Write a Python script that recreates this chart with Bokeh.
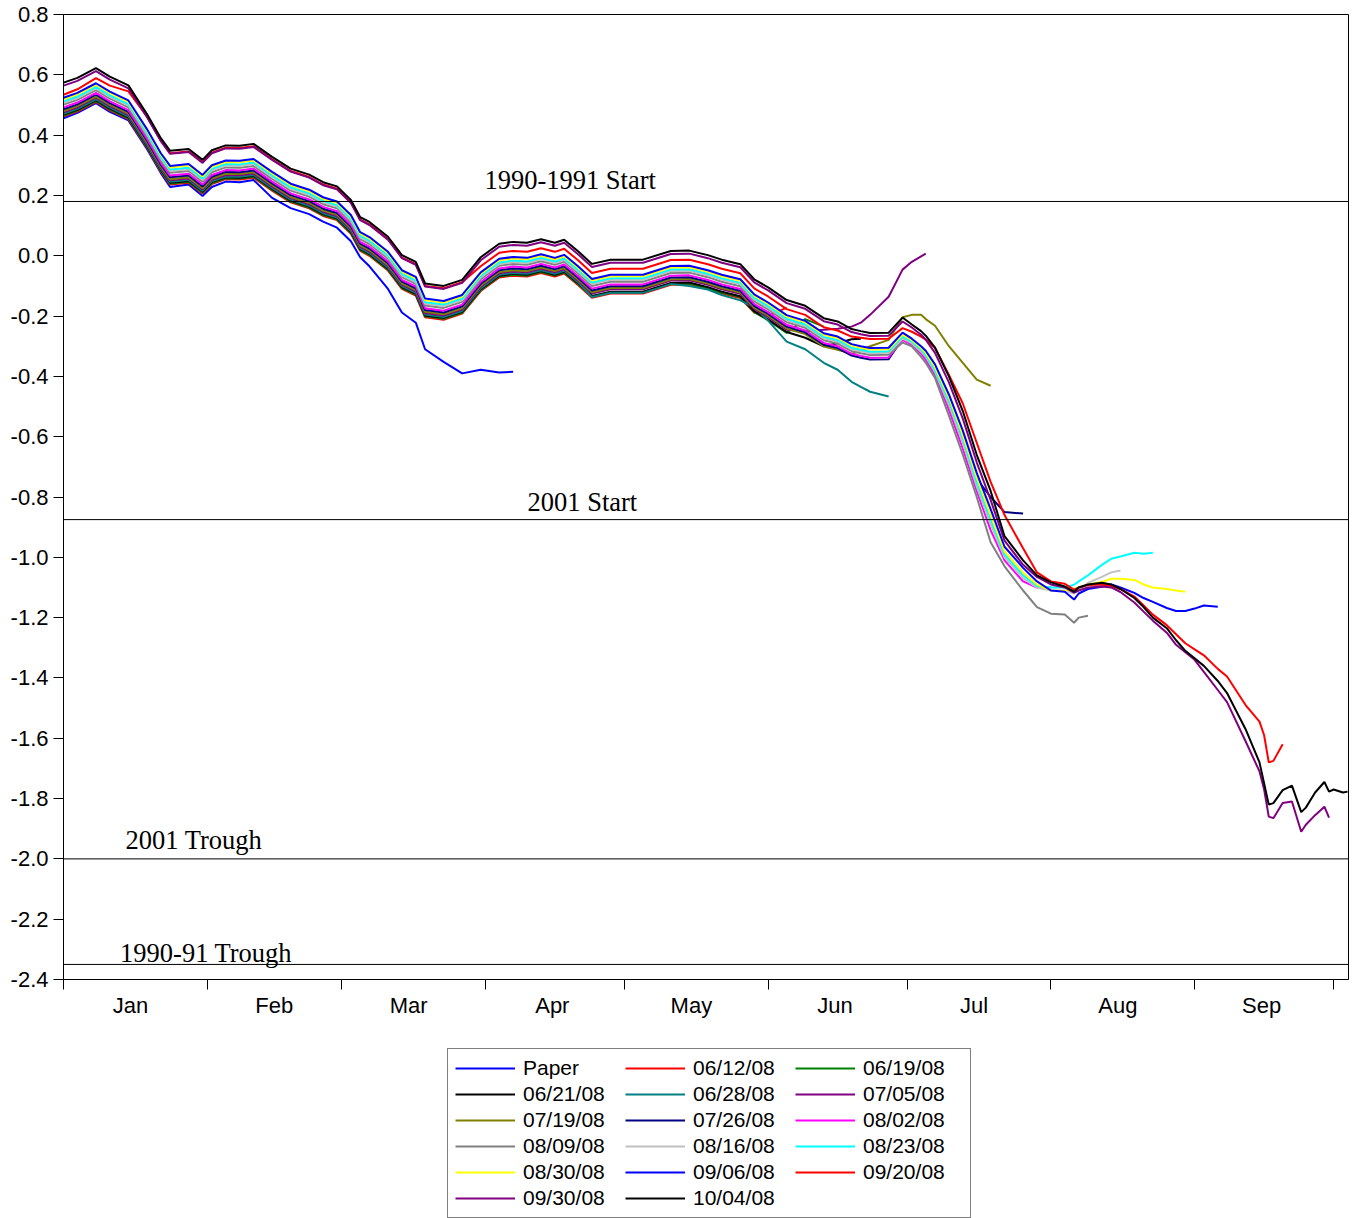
from bokeh.plotting import figure
from bokeh.layouts import column
from bokeh.models import (Range1d, FixedTicker, PrintfTickFormatter, Span, Label,
                          Legend, LegendItem, CustomJSTickFormatter)
from bokeh.embed import file_html
from bokeh.resources import INLINE

# day of year 2008 (0 = Jan 1)
DAYS = [0, 3, 7, 10, 14, 18, 21, 23, 27, 30, 32, 35, 38, 41, 45, 49, 53, 56, 59, 62,
        64, 66, 70, 73, 76, 78, 82, 86, 90, 94, 97, 100, 103, 106, 108, 111, 114, 118, 125, 131,
        135, 139, 142, 146, 149, 152, 156, 160, 164, 167, 170, 172, 174, 178, 181, 183, 185, 186, 188, 191,
        194, 197, 200, 203, 207, 210, 213, 216, 218, 219, 221, 224, 226, 228, 231, 233, 235, 238, 240, 242,
        244, 246, 249, 251, 255, 258, 259, 260, 261, 263, 265, 267, 268, 270, 272, 273, 274, 276, 277]

MONTHS = ["Jan", "Feb", "Mar", "Apr", "May", "Jun", "Jul", "Aug", "Sep"]
MONTH_STARTS = [0, 31, 60, 91, 121, 152, 182, 213, 244, 274]
Y_TICKS = [0.8, 0.6, 0.4, 0.2, 0.0, -0.2, -0.4, -0.6, -0.8, -1.0, -1.2, -1.4,
           -1.6, -1.8, -2.0, -2.2, -2.4]

REF_LEVELS = [0.18, -0.875, -2.0, -2.35]
REF_TEXTS = ["1990-1991 Start", "2001 Start", "2001 Trough", "1990-91 Trough"]

PAPER = [.456, .474, .506, .477, .449, .354, .274, .228, .236, .198,
         .228, .246, .244, .251, .192, .158, .138, .113, .093, .048,
         -.005, -.035, -.110, -.188, -.222, -.310, -.352, -.390, -.378, -.387, -.385]

R0612 = [.462, .478, .510, .482, .453, .358, .278, .236, .242, .206,
         .238, .254, .253, .259, .216, .177, .157, .132, .118, .073,
         .016, .000, -.049, -.110, -.132, -.204, -.212, -.192, -.117, -.072,
         -.066, -.069, -.057, -.069, -.059, -.097, -.139, -.125, -.125, -.096,
         -.095, -.110, -.125, -.140, -.188, -.200, -.172]

G0619 = [.465, .481, .513, .485, .456, .361, .281, .239, .245, .209,
         .241, .257, .256, .262, .219, .180, .160, .135, .121, .076,
         .019, .003, -.046, -.107, -.129, -.201, -.209, -.189, -.114, -.069,
         -.063, -.066, -.054, -.066, -.056, -.094, -.136, -.122, -.122, -.093,
         -.092, -.107, -.122, -.137, -.187, -.214, -.256, -.210, -.235]

K0621 = [.468, .484, .516, .488, .459, .364, .284, .242, .248, .212,
         .244, .260, .259, .265, .222, .183, .163, .138, .124, .079,
         .022, .006, -.043, -.104, -.126, -.198, -.206, -.186, -.111, -.066,
         -.060, -.063, -.051, -.063, -.053, -.091, -.133, -.119, -.119, -.090,
         -.089, -.104, -.119, -.134, -.184, -.211, -.253, -.272, -.300, -.290,
         -.277, -.275]

T0628 = [.471, .487, .519, .491, .462, .367, .287, .245, .251, .215,
         .247, .263, .262, .268, .225, .186, .166, .141, .127, .082,
         .025, .009, -.040, -.101, -.123, -.195, -.203, -.183, -.108, -.063,
         -.057, -.060, -.048, -.060, -.050, -.088, -.137, -.123, -.123, -.094,
         -.100, -.112, -.130, -.148, -.170, -.215, -.285, -.310, -.355, -.378,
         -.418, -.435, -.451, -.467]

P0705 = [.476, .492, .524, .496, .467, .372, .292, .250, .256, .220,
         .252, .268, .267, .273, .230, .191, .171, .146, .132, .087,
         .030, .014, -.035, -.096, -.118, -.190, -.198, -.178, -.103, -.058,
         -.052, -.055, -.043, -.055, -.045, -.083, -.125, -.111, -.111, -.082,
         -.081, -.096, -.111, -.126, -.176, -.203, -.245, -.250, -.245, -.242,
         -.235, -.222, -.196, -.136, -.046, -.020, -.002, .007]

O0719 = [.480, .496, .528, .500, .471, .376, .296, .254, .260, .224,
         .256, .272, .271, .277, .234, .195, .175, .150, .136, .091,
         .034, .018, -.031, -.092, -.114, -.186, -.194, -.174, -.099, -.054,
         -.048, -.051, -.039, -.051, -.041, -.079, -.121, -.107, -.107, -.078,
         -.077, -.092, -.107, -.122, -.172, -.199, -.241, -.260, -.301, -.312,
         -.325, -.315, -.300, -.279, -.204, -.196, -.196, -.210, -.232, -.300,
         -.355, -.411, -.431]

N0726 = [.486, .502, .534, .506, .477, .382, .302, .260, .266, .230,
         .262, .278, .277, .283, .240, .201, .181, .156, .142, .097,
         .040, .024, -.025, -.086, -.108, -.180, -.188, -.168, -.093, -.048,
         -.042, -.045, -.033, -.045, -.035, -.073, -.115, -.101, -.101, -.072,
         -.071, -.086, -.101, -.116, -.166, -.193, -.235, -.254, -.295, -.306,
         -.331, -.338, -.344, -.343, -.275, -.290, -.318, -.335, -.385, -.495,
         -.615, -.740, -.800, -.850, -.855]

M0802 = [.492, .508, .540, .512, .483, .388, .308, .266, .272, .236,
         .268, .284, .283, .289, .246, .207, .187, .162, .148, .103,
         .046, .030, -.019, -.080, -.102, -.174, -.182, -.162, -.087, -.042,
         -.036, -.039, -.027, -.039, -.029, -.067, -.109, -.095, -.095, -.066,
         -.065, -.080, -.095, -.110, -.160, -.187, -.229, -.248, -.289, -.300,
         -.325, -.332, -.338, -.337, -.280, -.295, -.325, -.345, -.395, -.510,
         -.640, -.780, -.910, -1.010, -1.080, -1.100, -1.100]

G0809 = [.501, .517, .549, .521, .492, .397, .317, .275, .281, .245,
         .277, .293, .292, .298, .255, .216, .196, .171, .157, .112,
         .055, .039, -.010, -.071, -.093, -.165, -.173, -.153, -.078, -.033,
         -.027, -.030, -.018, -.030, -.020, -.058, -.100, -.086, -.086, -.057,
         -.056, -.071, -.086, -.101, -.151, -.178, -.220, -.239, -.280, -.291,
         -.316, -.323, -.329, -.328, -.288, -.300, -.335, -.355, -.405, -.530,
         -.660, -.800, -.950, -1.030, -1.110, -1.165, -1.187, -1.190, -1.217, -1.200,
         -1.194]

L0816 = [.507, .523, .555, .527, .498, .403, .323, .281, .287, .251,
         .283, .299, .298, .304, .261, .222, .202, .177, .163, .118,
         .061, .045, -.004, -.065, -.087, -.159, -.167, -.147, -.072, -.027,
         -.021, -.024, -.012, -.024, -.014, -.052, -.094, -.080, -.080, -.051,
         -.050, -.065, -.080, -.095, -.145, -.172, -.214, -.233, -.274, -.285,
         -.310, -.317, -.323, -.322, -.275, -.290, -.318, -.335, -.385, -.495,
         -.620, -.765, -.890, -1.000, -1.070, -1.100, -1.110, -1.110, -1.120, -1.110,
         -1.085, -1.065, -1.050, -1.044]

C0823 = [.512, .528, .560, .532, .503, .408, .328, .286, .292, .256,
         .288, .304, .303, .309, .266, .227, .207, .182, .168, .123,
         .066, .050, .001, -.060, -.082, -.154, -.162, -.142, -.067, -.022,
         -.016, -.019, -.007, -.019, -.009, -.047, -.089, -.075, -.075, -.046,
         -.045, -.060, -.075, -.090, -.140, -.167, -.209, -.228, -.269, -.280,
         -.305, -.312, -.318, -.317, -.268, -.285, -.310, -.330, -.380, -.480,
         -.605, -.750, -.875, -.990, -1.060, -1.095, -1.100, -1.100, -1.091, -1.080,
         -1.060, -1.025, -1.005, -.997, -.985, -.988, -.985]

Y0830 = [.519, .535, .567, .539, .510, .415, .335, .293, .299, .263,
         .295, .311, .310, .316, .273, .234, .214, .189, .175, .130,
         .073, .057, .008, -.053, -.075, -.147, -.155, -.135, -.060, -.015,
         -.009, -.012, .000, -.012, -.002, -.040, -.082, -.068, -.068, -.039,
         -.038, -.053, -.068, -.083, -.133, -.160, -.202, -.221, -.262, -.273,
         -.298, -.305, -.311, -.310, -.262, -.280, -.305, -.322, -.370, -.470,
         -.595, -.735, -.860, -.980, -1.050, -1.090, -1.110, -1.112, -1.104, -1.100,
         -1.090, -1.082, -1.071, -1.071, -1.075, -1.090, -1.100, -1.105, -1.110, -1.114]

B0906 = [.524, .540, .572, .544, .515, .420, .340, .298, .304, .268,
         .300, .316, .315, .321, .278, .239, .219, .194, .180, .135,
         .078, .062, .013, -.048, -.070, -.142, -.150, -.130, -.055, -.010,
         -.004, -.007, .005, -.007, .003, -.035, -.077, -.063, -.063, -.034,
         -.033, -.048, -.063, -.078, -.128, -.155, -.197, -.216, -.257, -.268,
         -.293, -.300, -.306, -.305, -.255, -.275, -.300, -.315, -.360, -.460,
         -.580, -.720, -.840, -.965, -1.035, -1.080, -1.110, -1.114, -1.140, -1.120,
         -1.105, -1.098, -1.090, -1.100, -1.118, -1.135, -1.148, -1.168, -1.178, -1.178,
         -1.170, -1.160, -1.164]

R0920 = [.534, .552, .589, .564, .545, .462, .382, .340, .346, .310,
         .342, .358, .357, .363, .320, .281, .261, .236, .222, .177,
         .120, .104, .055, -.006, -.028, -.100, -.108, -.088, -.035, .010,
         .016, .013, .025, .013, .023, -.015, -.057, -.043, -.043, -.014,
         -.013, -.028, -.043, -.058, -.108, -.135, -.177, -.196, -.237, -.248,
         -.268, -.272, -.276, -.275, -.240, -.252, -.268, -.278, -.305, -.395,
         -.490, -.620, -.750, -.860, -.970, -1.050, -1.080, -1.088, -1.107, -1.100,
         -1.092, -1.090, -1.095, -1.105, -1.130, -1.160, -1.190, -1.225, -1.255, -1.285,
         -1.305, -1.325, -1.370, -1.395, -1.490, -1.545, -1.590, -1.680, -1.675, -1.620]

P0930 = [.564, .580, .612, .584, .555, .460, .380, .338, .344, .308,
         .340, .356, .355, .361, .318, .279, .259, .234, .220, .175,
         .118, .102, .053, -.008, -.030, -.102, -.110, -.090, -.015, .030,
         .036, .033, .045, .033, .043, .005, -.037, -.023, -.023, .006,
         .007, -.008, -.023, -.038, -.088, -.115, -.157, -.176, -.217, -.228,
         -.253, -.260, -.266, -.265, -.218, -.238, -.262, -.278, -.322, -.420,
         -.540, -.685, -.810, -.945, -1.025, -1.065, -1.090, -1.100, -1.117, -1.110,
         -1.100, -1.097, -1.100, -1.115, -1.150, -1.180, -1.210, -1.250, -1.290, -1.315,
         -1.340, -1.380, -1.440, -1.480, -1.610, -1.710, -1.770, -1.860, -1.865, -1.815,
         -1.810, -1.910, -1.887, -1.855, -1.827, -1.863]

K1004 = [.574, .590, .622, .594, .565, .470, .390, .348, .354, .318,
         .350, .366, .365, .371, .328, .289, .269, .244, .230, .185,
         .128, .112, .063, .002, -.020, -.092, -.100, -.080, -.005, .040,
         .046, .043, .055, .043, .053, .015, -.027, -.013, -.013, .016,
         .017, .002, -.013, -.028, -.078, -.105, -.147, -.166, -.207, -.218,
         -.243, -.250, -.256, -.255, -.205, -.228, -.250, -.265, -.305, -.400,
         -.515, -.660, -.780, -.930, -1.010, -1.060, -1.083, -1.097, -1.114, -1.100,
         -1.090, -1.084, -1.090, -1.105, -1.135, -1.165, -1.200, -1.235, -1.275, -1.310,
         -1.335, -1.360, -1.410, -1.450, -1.570, -1.680, -1.750, -1.820, -1.815, -1.772,
         -1.757, -1.845, -1.830, -1.780, -1.745, -1.777, -1.770, -1.780, -1.777]

SERIES = [
    ("Paper", "#0000FF", PAPER),
    ("06/12/08", "#FF0000", R0612),
    ("06/19/08", "#008000", G0619),
    ("06/21/08", "#000000", K0621),
    ("06/28/08", "#008080", T0628),
    ("07/05/08", "#800080", P0705),
    ("07/19/08", "#808000", O0719),
    ("07/26/08", "#000080", N0726),
    ("08/02/08", "#FF00FF", M0802),
    ("08/09/08", "#808080", G0809),
    ("08/16/08", "#C0C0C0", L0816),
    ("08/23/08", "#00FFFF", C0823),
    ("08/30/08", "#FFFF00", Y0830),
    ("09/06/08", "#0000FF", B0906),
    ("09/20/08", "#FF0000", R0920),
    ("09/30/08", "#800080", P0930),
    ("10/04/08", "#000000", K1004),
]

FONT = "Liberation Sans"

p = figure(frame_width=1285, frame_height=965,
           x_range=Range1d(0, 277.2), y_range=Range1d(-2.4, 0.8),
           output_backend="svg", toolbar_location=None,
           min_border_left=63, min_border_top=14, min_border_right=2,
           min_border_bottom=61,
           background_fill_color="white", border_fill_color="white")

p.xgrid.visible = False
p.ygrid.visible = False
p.outline_line_color = "black"
p.outline_line_width = 1
p.outline_line_alpha = 1

label_pos = [s + 14.45 for s in MONTH_STARTS[:-1]]
xa = p.xaxis[0]
xa.ticker = FixedTicker(ticks=label_pos, minor_ticks=MONTH_STARTS)
xa.formatter = CustomJSTickFormatter(args=dict(names=MONTHS), code="return names[index];")
xa.major_tick_line_color = None
xa.major_tick_out = 0
xa.major_tick_in = 0
xa.minor_tick_out = 10
xa.minor_tick_in = 0
xa.minor_tick_line_color = "black"
xa.axis_line_color = "black"
xa.major_label_standoff = 3
xa.major_label_text_font = FONT
xa.major_label_text_font_size = "22px"
xa.major_label_text_color = "black"

ya = p.yaxis[0]
ya.ticker = FixedTicker(ticks=Y_TICKS, minor_ticks=[])
ya.formatter = PrintfTickFormatter(format="%.1f")
ya.major_tick_out = 10
ya.major_tick_in = 0
ya.major_tick_line_color = "black"
ya.axis_line_color = "black"
ya.major_label_standoff = 5
ya.major_label_text_font = FONT
ya.major_label_text_font_size = "22px"
ya.major_label_text_color = "black"

for lvl in REF_LEVELS:
    p.add_layout(Span(location=lvl, dimension="width", line_color="black", line_width=1))

label_xy = [(90.8, 0.2505), (100.1, -0.818), (13.4, -1.936), (12.2, -2.3105)]
for (lx, ly), txt in zip(label_xy, REF_TEXTS):
    p.add_layout(Label(x=lx, y=ly, text=txt, text_font="Liberation Serif",
                       text_font_size="26.5px", text_color="black",
                       text_baseline="alphabetic", text_align="left"))

for name, color, vals in SERIES:
    p.line(DAYS[:len(vals)], vals, line_color=color, line_width=2)

# legend panel below the chart
p2 = figure(width=1350, height=178, output_backend="svg", toolbar_location=None,
            x_axis_location=None, y_axis_location=None, min_border=0,
            x_range=Range1d(0, 1), y_range=Range1d(0, 1),
            background_fill_color="white", border_fill_color="white")
p2.outline_line_color = None
p2.xgrid.visible = False
p2.ygrid.visible = False

nan = float("nan")
items = []
for name, color, vals in SERIES:
    r = p2.line([nan], [nan], line_color=color, line_width=2)
    items.append(LegendItem(label=name, renderers=[r]))

legend = Legend(items=items, location=(384, 0), orientation="horizontal", ncols=3,
                glyph_width=60, glyph_height=24, label_height=24, label_width=100,
                label_standoff=8, spacing=2, padding=7, margin=0,
                border_line_color="black", border_line_width=1,
                background_fill_color="white", background_fill_alpha=1,
                label_text_font=FONT, label_text_font_size="21px",
                label_text_color="black")
p2.add_layout(legend, "center")

layout = column(p, p2, spacing=0)
open("out.html", "w").write(file_html(layout, INLINE))
